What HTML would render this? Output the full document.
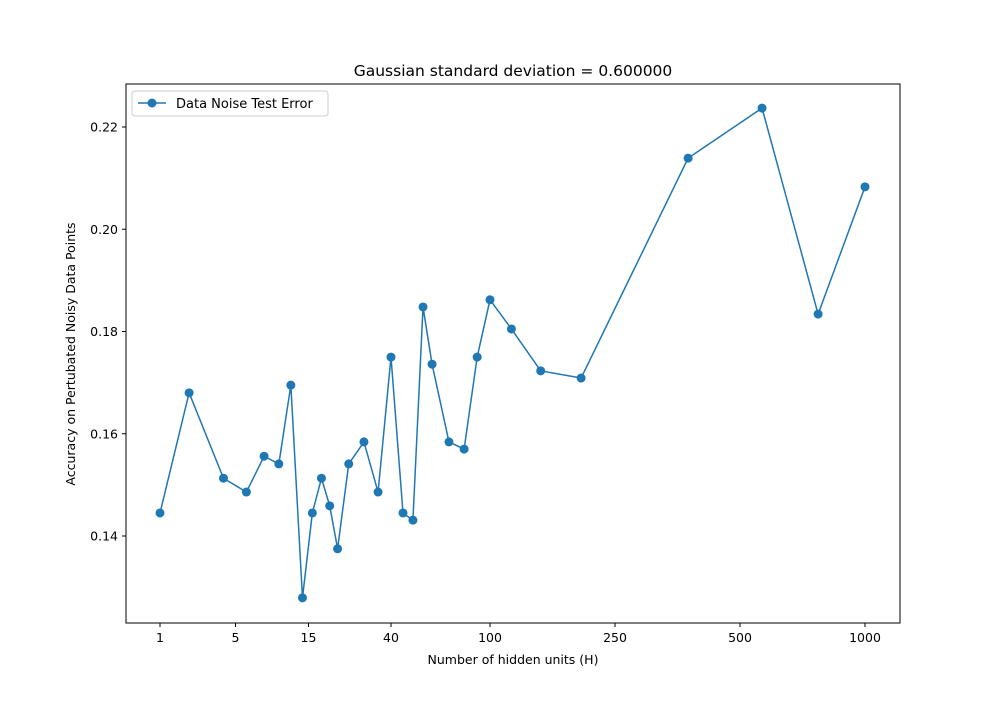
<!DOCTYPE html>
<html><head><meta charset="utf-8"><style>
body{margin:0;background:#fff;}
svg text{font-family:"DejaVu Sans","Liberation Sans",sans-serif;fill:#000;}
</style></head><body>
<svg id="chart" width="1000" height="700" xmlns="http://www.w3.org/2000/svg">
<rect width="1000" height="700" fill="#fff"/>
<text x="513" y="76" font-size="15.5" text-anchor="middle">Gaussian standard deviation = 0.600000</text>
<g id="axes"></g>
<g id="plot"></g>
<rect x="126" y="84" width="774" height="539" fill="none" stroke="#000" stroke-width="1"/>
<text x="513" y="664" font-size="12.5" text-anchor="middle">Number of hidden units (H)</text>
<text transform="translate(75,354) rotate(-90)" font-size="12.5" text-anchor="middle">Accuracy on Pertubated Noisy Data Points</text>
<g>
<rect x="132" y="91" width="196" height="25" rx="3" fill="#fff" stroke="#ccc"/>
<line x1="138" y1="103" x2="166" y2="103" stroke="#1f77b4" stroke-width="1.5"/>
<circle cx="152" cy="103" r="4.5" fill="#1f77b4"/>
<text x="176" y="108" font-size="13">Data Noise Test Error</text>
</g>
</svg>
<script>
const xTickValues=[1,5,15,40,100,250,500,1000];
const xTickLabels=["1","5","15","40","100","250","500","1000"];
const yTicks=[0.14,0.16,0.18,0.20,0.22];
const hiddenUnits=[1,1.86,3.87,5.89,7.69,9.6,11.5,13.7,15.7,17.5,19.3,21.2,24.2,29,34.3,40,44.7,49,53.8,58.5,68.4,78.7,88.8,100,117,145,195,375,565,771,1000];
const errors=[.1445,.1680,.1513,.1486,.1556,.1541,.1695,.1279,.1445,.1513,.1459,.1375,.1541,.1584,.1486,.1750,.1445,.1431,.1848,.1736,.1584,.1570,.1750,.1862,.1805,.1723,.1709,.2139,.2237,.1834,.2083];
const tickPx=[160,235.5,308.5,391,490,615,740,865];
function xs(v){
  const L=Math.log10(v);
  for(let i=0;i<xTickValues.length-1;i++){
    const a=Math.log10(xTickValues[i]),b=Math.log10(xTickValues[i+1]);
    if(L<=b||i===xTickValues.length-2){return tickPx[i]+(L-a)/(b-a)*(tickPx[i+1]-tickPx[i]);}
  }
}
function ys(v){return 536-(v-0.14)*5112.5;}
const NS="http://www.w3.org/2000/svg";
const axes=document.getElementById('axes'),plot=document.getElementById('plot');
function mk(t,a,p){const e=document.createElementNS(NS,t);for(const k in a)e.setAttribute(k,a[k]);p.appendChild(e);return e;}
xTickValues.forEach((v,i)=>{
  const x=xs(v);
  const l=mk('line',{x1:x,x2:x,y1:623,y2:627,stroke:'#000'},axes);
  
  
  const t=mk('text',{x:x,y:642,'font-size':12.5,'text-anchor':'middle'},axes);
  t.textContent=xTickLabels[i];
  
  
});
yTicks.forEach(v=>{
  const y=ys(v);
  const l=mk('line',{x1:122,x2:126,y1:y,y2:y,stroke:'#000'},axes);
  
  
  const t=mk('text',{x:118,y:y+4.5,'font-size':12.5,'text-anchor':'end'},axes);
  t.textContent=v.toFixed(2);
  
  
});
const pts=hiddenUnits.map((h,i)=>xs(h)+','+ys(errors[i])).join(' ');
const pl=mk('polyline',{points:pts,fill:'none',stroke:'#1f77b4','stroke-width':1.5},plot);


hiddenUnits.forEach((h,i)=>{
  const c=mk('circle',{cx:xs(h),cy:ys(errors[i]),r:4.5,fill:'#1f77b4'},plot);
  
  
});
</script>
</body></html>
